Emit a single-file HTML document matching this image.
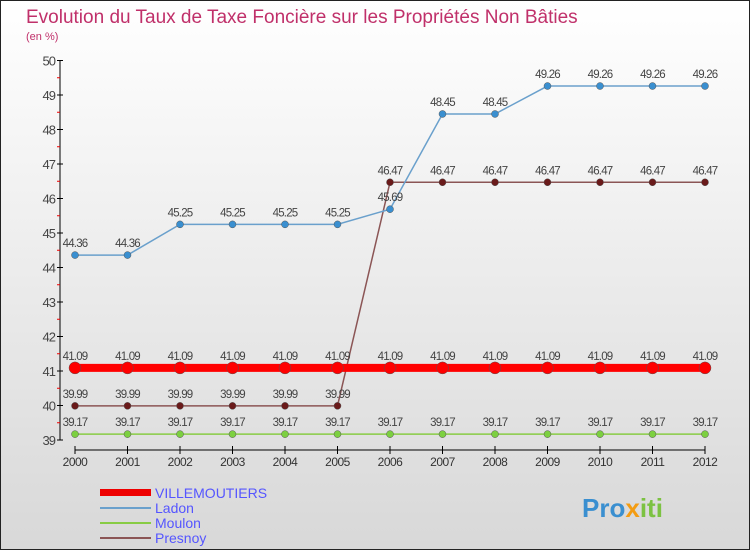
<!DOCTYPE html>
<html><head><meta charset="utf-8"><style>
body{margin:0}
svg{display:block;font-family:"Liberation Sans",sans-serif}
</style></head><body>
<svg id="c" width="750" height="550">
<defs><linearGradient id="bg" x1="0" y1="0" x2="0" y2="1"><stop offset="0" stop-color="#ffffff"/><stop offset="1" stop-color="#d8d8d8"/></linearGradient></defs>
<rect x="0.5" y="0.5" width="749" height="549" fill="url(#bg)" stroke="#222"/>
<text x="26" y="23" font-size="19" fill="#c0306a">Evolution du Taux de Taxe Foncière sur les Propriétés Non Bâties</text>
<text x="26" y="40" font-size="11" fill="#c0306a">(en %)</text>
<g id="g"></g>
<g>
<g><rect x="100" y="489" width="51" height="7" fill="#e00"/><text x="155" y="498" font-size="14" fill="#55f">VILLEMOUTIERS</text></g>
<g><line x1="100" y1="508" x2="151" y2="508" stroke="#6aa0cc" stroke-width="2"/><text x="155" y="513" font-size="14" fill="#55f">Ladon</text></g>
<g><line x1="100" y1="523" x2="151" y2="523" stroke="#8c4" stroke-width="2"/><text x="155" y="528" font-size="14" fill="#55f">Moulon</text></g>
<g><line x1="100" y1="538" x2="151" y2="538" stroke="#8b5555" stroke-width="2"/><text x="155" y="543" font-size="14" fill="#55f">Presnoy</text></g>
</g>
<g><text x="582" y="517" font-size="26" font-weight="bold" fill="#3a8fd0">Pro<tspan fill="#f39c12">x</tspan><tspan fill="#7cc242">iti</tspan></text></g>
</svg>
<script>
const years=[2000,2001,2002,2003,2004,2005,2006,2007,2008,2009,2010,2011,2012];
const villemoutiers=[41.09,41.09,41.09,41.09,41.09,41.09,41.09,41.09,41.09,41.09,41.09,41.09,41.09];
const ladon=[44.36,44.36,45.25,45.25,45.25,45.25,45.69,48.45,48.45,49.26,49.26,49.26,49.26];
const moulon=[39.17,39.17,39.17,39.17,39.17,39.17,39.17,39.17,39.17,39.17,39.17,39.17,39.17];
const presnoy=[39.99,39.99,39.99,39.99,39.99,39.99,46.47,46.47,46.47,46.47,46.47,46.47,46.47];
const yTicks=[39,40,41,42,43,44,45,46,47,48,49,50];
const NS='http://www.w3.org/2000/svg';
const g=document.getElementById('g');
function x(i){return 75+i*52.5;}
function y(v){return 440-(v-39)*34.5;}
function mk(t,a,p){const e=document.createElementNS(NS,t);for(const k in a)e.setAttribute(k,a[k]);(p||g).appendChild(e);return e;}
// axes
let ya=mk('line',{x1:60,y1:60,x2:60,y2:440,stroke:'#000'});


yTicks.forEach(v=>{
  mk('line',{x1:57,y1:y(v),x2:63,y2:y(v),stroke:'#000'});
  if(v<50)mk('line',{x1:57,y1:y(v+0.5),x2:60,y2:y(v+0.5),stroke:'#e00'});
  const t=mk('text',{x:55,y:y(v)+5,'text-anchor':'end','font-size':13,fill:'#444','letter-spacing':'-1'});t.textContent=v;
  
  
});
let xa=mk('line',{x1:75,y1:450,x2:705,y2:450,stroke:'#000'});


years.forEach((yr,i)=>{
  mk('line',{x1:x(i),y1:446,x2:x(i),y2:454,stroke:'#000'});
  const t=mk('text',{x:x(i),y:466,'text-anchor':'middle','font-size':12,fill:'#333','letter-spacing':'-0.5'});t.textContent=yr;
  
  
});
function series(name,vals,col,w,r,dot){
  const s=mk('g',{});
  
  
  mk('polyline',{points:vals.map((v,i)=>x(i)+','+y(v)).join(' '),fill:'none',stroke:col,'stroke-width':w},s);
  vals.forEach((v,i)=>{
    const c=mk('circle',{cx:x(i),cy:y(v),r:r,fill:dot,stroke:'#555','stroke-width':0.5},s);
    
    
    const t=mk('text',{x:x(i),y:y(v)-8,'text-anchor':'middle','font-size':11.5,fill:'#444','letter-spacing':'-0.8'},s);t.textContent=v.toFixed(2);
    
    
  });
}
series('moulon',moulon,'#8c4',1.5,3.5,'#7cd040');
series('presnoy',presnoy,'#8b5555',1.5,3.5,'#6a1a1a');
series('ladon',ladon,'#6aa0cc',1.5,3.5,'#3a8fd0');
series('villemoutiers',villemoutiers,'#f00',8,6,'#f00');
</script>
</body></html>
